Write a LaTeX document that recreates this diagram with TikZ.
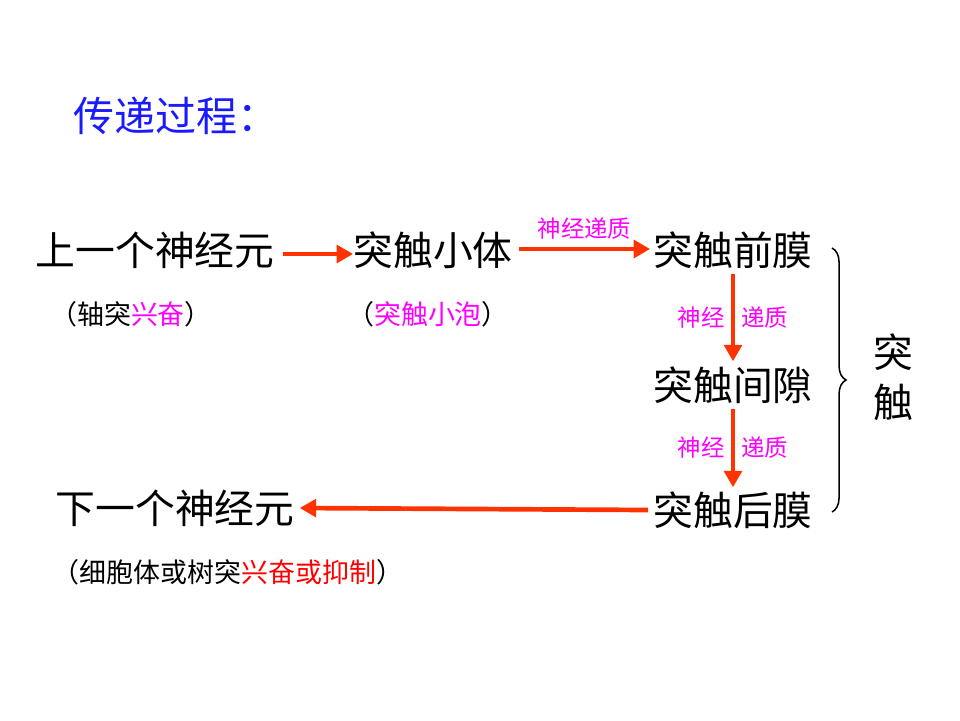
\documentclass[tikz,border=0pt]{standalone}
\usepackage{fontspec}
\setmainfont{Noto Sans CJK SC}
\usetikzlibrary{arrows.meta,decorations.pathreplacing}
\definecolor{arr}{HTML}{FF3300}
\definecolor{mag}{HTML}{FF00FF}
\definecolor{ttl}{HTML}{1A1AFF}
\tikzset{
 big/.style={inner sep=0pt,font=\fontsize{34}{38}\selectfont},
 small/.style={inner sep=0pt,font=\fontsize{23}{26}\selectfont},
 lab/.style={inner sep=0pt,text=mag,font=\fontsize{20}{22}\selectfont},
 flow/.style={draw=arr,line width=4pt,-{Triangle[length=14pt,width=15pt]}}
}
\begin{document}
\begin{tikzpicture}[x=0.03cm,y=-0.03cm]
\useasboundingbox (0,0) rectangle (960,720);
\node[inner sep=0pt,text=ttl,font=\fontsize{35}{40}\selectfont,anchor=west] (t) at (73,116) {传递过程：};
\node[big] (n1) at (155,250) {上一个神经元};
\node[big] (n2) at (433,250) {突触小体};
\node[big] (n3) at (733,250) {突触前膜};
\node[big] (n4) at (733,385) {突触间隙};
\node[big] (n5) at (733,510) {突触后膜};
\node[big] (n6) at (175,508) {下一个神经元};
\node[small] (s1) at (131,314) {（轴突\textcolor{mag}{兴奋}）};
\node[small] (s2) at (428,314) {（\textcolor{mag}{突触小泡}）};
\node[small] (s3) at (228,572) {（细胞体或树突\textcolor{red}{兴奋或抑制}）};
\draw[flow] (n1.east)++(8,4) coordinate (a1) -- ([yshift=-4*0.03cm]n2.west) ;
\draw[flow] ([xshift=6*0.03cm,yshift=0.03cm]n2.east) -- ([xshift=-3*0.03cm,yshift=0.03cm]n3.west) node[lab,midway,above=6pt] (l1) {神经递质};
\draw[flow] ([yshift=-5*0.03cm]n3.south) -- ([yshift=5*0.03cm]n4.north) node[lab,midway,left=5pt] (l2) {神经} node[lab,midway,right=5pt] (l3) {递质};
\draw[flow] ([yshift=-5*0.03cm]n4.south) -- ([yshift=4*0.03cm]n5.north) node[lab,midway,left=5pt] (l4) {神经} node[lab,midway,right=5pt] (l5) {递质};
\draw[flow] ([xshift=-5*0.03cm]n5.west) -- ([xshift=5*0.03cm]n6.east);
\coordinate (b1) at (832,248);
\coordinate (b2) at (832,512);
\draw[line width=1.3pt,decorate,decoration={brace,amplitude=12pt}] (b1) -- (b2);
\node[big] (k1) at (893,352) {突};
\node[big] (k2) at (893,402) {触};
\end{tikzpicture}
\end{document}
